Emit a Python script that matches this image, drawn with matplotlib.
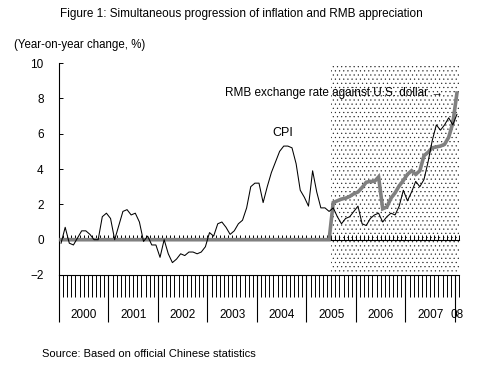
import numpy as np
import matplotlib
matplotlib.use('Agg')
import matplotlib.pyplot as plt

plt.rcParams['font.family'] = ['Liberation Sans', 'DejaVu Sans']
plt.rcParams['hatch.linewidth'] = 0.35

# monthly data, Jan 2000 - Jan 2008
cpi = [
    -0.2, 0.7, -0.2, -0.3, 0.1, 0.5, 0.5, 0.3, 0.0, 0.0, 1.3, 1.5,      # 2000
    1.2, 0.0, 0.8, 1.6, 1.7, 1.4, 1.5, 1.0, -0.1, 0.2, -0.3, -0.3,      # 2001
    -1.0, 0.0, -0.8, -1.3, -1.1, -0.8, -0.9, -0.7, -0.7, -0.8, -0.7, -0.4,  # 2002
    0.4, 0.2, 0.9, 1.0, 0.7, 0.3, 0.5, 0.9, 1.1, 1.8, 3.0, 3.2,         # 2003
    3.2, 2.1, 3.0, 3.8, 4.4, 5.0, 5.3, 5.3, 5.2, 4.3, 2.8, 2.4,         # 2004
    1.9, 3.9, 2.7, 1.8, 1.8, 1.6, 1.8, 1.3, 0.9, 1.2, 1.3, 1.6,         # 2005
    1.9, 0.9, 0.8, 1.2, 1.4, 1.5, 1.0, 1.3, 1.5, 1.4, 1.9, 2.8,         # 2006
    2.2, 2.7, 3.3, 3.0, 3.4, 4.4, 5.6, 6.5, 6.2, 6.5, 6.9, 6.5,         # 2007
    7.1,                                                                # 2008
]
rmb = [0.0] * 66 + [
    2.1, 2.2, 2.3, 2.35, 2.45, 2.6,                                     # Jul-Dec 2005
    2.7, 2.95, 3.25, 3.3, 3.3, 3.55, 1.75, 1.85, 2.35, 2.65, 3.05, 3.35,  # 2006
    3.7, 3.9, 3.7, 3.9, 4.75, 4.95, 5.2, 5.25, 5.3, 5.4, 5.8, 6.6,      # 2007
    8.3,                                                                # 2008
]
years = ['2000', '2001', '2002', '2003', '2004', '2005', '2006', '2007', '08']
reval_month = 66  # July 2005

n = len(cpi)
x = np.arange(n) + 0.5
xmax = n

fig = plt.figure(figsize=(5.0, 3.86), dpi=100)
ax = fig.add_axes([0.118, 0.2876, 0.8, 0.549])

ax.axvspan(reval_month, xmax, ymin=0.014, ymax=0.995, facecolor='white',
           edgecolor='#222222', hatch='....', linewidth=0, zorder=0)

ax.plot(x, rmb, color='#808080', lw=2.6, zorder=3, solid_joinstyle='miter')
ax.plot(x, cpi, color='black', lw=0.75, zorder=4)

ax.set_xlim(0, xmax)
ax.set_ylim(-2, 10)
ax.set_yticks(range(-2, 11, 2))
ax.set_yticklabels(['\u22122'] + [str(v) for v in range(0, 11, 2)])
ax.tick_params(axis='y', direction='in', length=3, width=0.7, pad=11, labelsize=8.5)

for s in ['top', 'right']:
    ax.spines[s].set_visible(False)
ax.spines['left'].set_linewidth(0.8)
ax.spines['bottom'].set_position(('data', 0))
ax.spines['bottom'].set_linewidth(0.8)
month_ticks = np.arange(0, xmax + 1)
year_ticks = np.arange(0, xmax + 1, 12)
ax.set_xticks(year_ticks)
ax.set_xticks(month_ticks, minor=True)
ax.tick_params(axis='x', which='both', direction='in', length=3.5, width=0.7,
               labelbottom=False)

sec = ax.secondary_xaxis(0)
sec.spines['bottom'].set_linewidth(0.8)
sec.set_xticks(year_ticks)
sec.set_xticks(month_ticks, minor=True)
sec.tick_params(which='major', direction='out', length=33.5, width=0.8, labelbottom=False)
sec.tick_params(which='minor', direction='out', length=15.5, width=0.7)

year_mid = [min(i * 12 + 6, n - 0.5) for i in range(len(years))]
for xm, lab in zip(year_mid, years):
    ax.text(xm, -0.19, lab, transform=ax.get_xaxis_transform(), ha='center',
            va='center', fontsize=8.5)

ax.text(40.2, 8.3, 'RMB exchange rate against U.S. dollar \u2192', ha='left',
        va='center', fontsize=8.5, zorder=5)
ax.text(54.2, 6.05, 'CPI', ha='center', va='center', fontsize=9, zorder=5)

fig.text(0.482, 0.9637, 'Figure 1: Simultaneous progression of inflation and RMB appreciation',
         ha='center', va='center', fontsize=8.5)
fig.text(0.028, 0.883, '(Year-on-year change, %)', ha='left', va='center', fontsize=8.3)
fig.text(0.084, 0.083, 'Source: Based on official Chinese statistics', ha='left',
         va='center', fontsize=8)

fig.savefig('out.png', dpi=100)
